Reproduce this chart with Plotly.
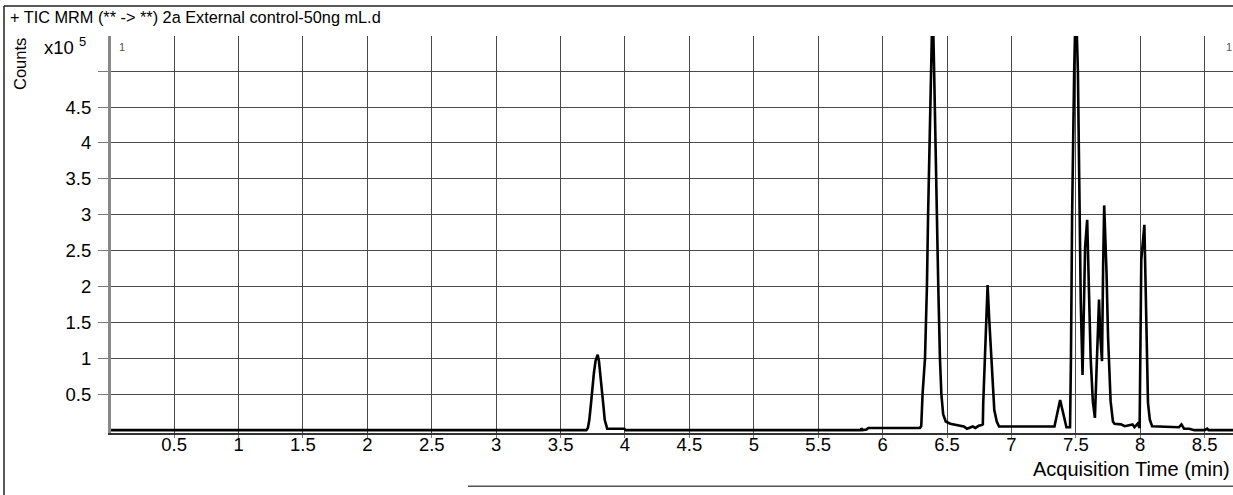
import plotly.graph_objects as go

# ---- data (time in min, counts in units of 1e5) ----
time_min = [
    0.00, 3.700, 3.712, 3.723, 3.735, 3.744, 3.759, 3.772, 3.788, 3.798, 3.809, 3.822,
    3.833, 3.843, 3.853, 3.862, 3.995, 4.005, 5.830, 5.835, 5.845, 5.875, 5.890,
    6.290, 6.300, 6.310, 6.329, 6.344, 6.353, 6.365, 6.375, 6.388, 6.400, 6.409,
    6.419, 6.432, 6.445, 6.456, 6.470, 6.490, 6.525, 6.580, 6.630, 6.655, 6.680,
    6.700, 6.720, 6.745, 6.770, 6.778, 6.781, 6.794, 6.802, 6.815, 6.828, 6.841,
    6.854, 6.867, 6.886, 6.904, 7.334, 7.378, 7.427, 7.455, 7.462, 7.471, 7.487,
    7.500, 7.516, 7.527, 7.538, 7.552, 7.562, 7.572, 7.588, 7.600, 7.615, 7.632,
    7.648, 7.660, 7.672, 7.680, 7.690, 7.703, 7.712, 7.720, 7.738, 7.750, 7.770,
    7.788, 7.800, 7.850, 7.880, 7.940, 7.955, 7.980, 7.995, 8.003, 8.008, 8.032,
    8.040, 8.050, 8.060, 8.074, 8.092, 8.300, 8.320, 8.340, 8.380, 8.420, 8.500,
    8.520, 8.530, 8.740,
]
counts_e5 = [
    0.00, 0.00, 0.03, 0.14, 0.35, 0.56, 0.80, 0.97, 1.05, 0.96, 0.79, 0.56,
    0.33, 0.14, 0.05, 0.02, 0.02, 0.00, 0.00, 0.025, 0.00, 0.01, 0.03,
    0.03, 0.06, 0.50, 1.00, 2.00, 3.00, 4.00, 5.00, 6.00, 5.00, 4.00,
    3.00, 2.00, 1.00, 0.50, 0.22, 0.12, 0.09, 0.07, 0.05, 0.02, 0.04,
    0.05, 0.03, 0.06, 0.07, 0.08, 0.37, 1.07, 1.53, 2.02, 1.53, 1.07,
    0.60, 0.28, 0.12, 0.05, 0.05, 0.42, 0.04, 0.04, 1.00, 3.00, 5.00,
    6.00, 5.00, 3.00, 1.80, 0.77, 1.60, 2.55, 2.93, 2.00, 1.00, 0.40,
    0.17, 0.80, 1.45, 1.82, 1.30, 0.96, 2.30, 3.13, 2.21, 1.30, 0.40,
    0.12, 0.09, 0.08, 0.055, 0.08, 0.04, 0.09, 0.03, 1.30, 2.37, 2.86,
    2.00, 1.07, 0.38, 0.15, 0.055, 0.04, 0.08, 0.02, 0.02, 0.00, 0.00,
    0.02, 0.00, 0.00,
]

x_ticks = [0.5, 1, 1.5, 2, 2.5, 3, 3.5, 4, 4.5, 5, 5.5, 6, 6.5, 7, 7.5, 8, 8.5]
x_tick_text = ["0.5", "1", "1.5", "2", "2.5", "3", "3.5", "4", "4.5", "5", "5.5",
               "6", "6.5", "7", "7.5", "8", "8.5"]
y_ticks = [0.5, 1, 1.5, 2, 2.5, 3, 3.5, 4, 4.5, 5]
y_tick_text = ["0.5", "1", "1.5", "2", "2.5", "3", "3.5", "4", "4.5", ""]

title_text = "+ TIC MRM (** -> **) 2a External control-50ng mL.d"
x_title = "Acquisition Time (min)"
y_title = "Counts"

# ---- layout geometry (pixels) ----
W, H = 1233, 495
L, R, T, B = 111, 1233, 36, 432.7


def px(xp):
    return (xp - L) / (R - L)


def py(yp):
    return (B - yp) / (B - T)


FONT = "Liberation Sans, Arial, sans-serif"
GRID = "#4a4a4a"

fig = go.Figure()
fig.add_trace(go.Scatter(
    x=time_min, y=counts_e5, mode="lines",
    line=dict(color="black", width=2.6, shape="linear"),
    hoverinfo="skip", showlegend=False,
))

fig.update_layout(
    width=W, height=H,
    margin=dict(l=L, r=W - R, t=T, b=H - B),
    paper_bgcolor="white", plot_bgcolor="white",
    font=dict(family=FONT, size=16, color="black"),
    showlegend=False,
    xaxis=dict(
        range=[0.01, 8.72], tickvals=x_ticks, ticktext=x_tick_text,
        showgrid=True, gridcolor=GRID, gridwidth=1,
        ticks="outside", ticklen=3, tickcolor="#777", tickwidth=1,
        ticklabelstandoff=-9,
        showline=True, linecolor="#333", linewidth=2,
        zeroline=False, tickfont=dict(size=18.5),
    ),
    yaxis=dict(
        range=[-0.04, 5.49], tickvals=y_ticks, ticktext=y_tick_text,
        showgrid=True, gridcolor=GRID, gridwidth=1,
        ticks="outside", ticklen=10, tickcolor="#777", tickwidth=1,
        ticklabelstandoff=3,
        showline=True, linecolor="#888", linewidth=3,
        zeroline=False, tickfont=dict(size=18.5),
    ),
    annotations=[
        dict(text=title_text, xref="paper", yref="paper", x=px(8), y=py(17),
             xanchor="left", yanchor="middle", showarrow=False,
             font=dict(size=16.3)),
        dict(text=x_title, xref="paper", yref="paper", x=px(1232), y=py(469),
             xanchor="right", yanchor="middle", showarrow=False,
             font=dict(size=20)),
        dict(text=y_title, xref="paper", yref="paper", x=px(20), y=py(64),
             xanchor="center", yanchor="middle", showarrow=False, textangle=-90,
             font=dict(size=16.5)),
        dict(text="x10 <sup>5</sup>", xref="paper", yref="paper", x=px(42), y=py(46),
             xanchor="left", yanchor="middle", showarrow=False,
             font=dict(size=18.5)),
        dict(text="1", xref="paper", yref="paper", x=px(122), y=py(47),
             xanchor="center", yanchor="middle", showarrow=False,
             font=dict(size=11, color="#555")),
        dict(text="1", xref="paper", yref="paper", x=px(1229), y=py(47),
             xanchor="center", yanchor="middle", showarrow=False,
             font=dict(size=11, color="#555")),
    ],
    shapes=[
        dict(type="line", xref="paper", yref="paper", x0=px(4), x1=px(1233),
             y0=py(6), y1=py(6), line=dict(color="#222", width=1.5)),
        dict(type="line", xref="paper", yref="paper", x0=px(4), x1=px(4),
             y0=py(6), y1=py(495), line=dict(color="#222", width=1.5)),
        dict(type="line", xref="paper", yref="paper", x0=px(468), x1=px(1233),
             y0=py(486), y1=py(486), line=dict(color="#555", width=1.5)),
    ],
)

fig.write_html(
    "out.html",
    config={"displayModeBar": False, "staticPlot": True},
    post_script="document.body.style.margin='0';document.body.style.overflow='hidden';",
)
